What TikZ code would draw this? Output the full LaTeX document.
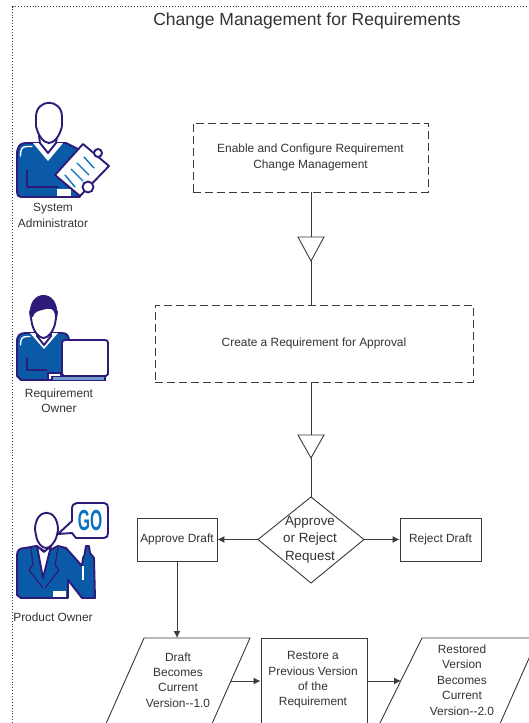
\documentclass[tikz,border=0pt]{standalone}
\usepackage{fontspec}
\setmainfont{Liberation Sans}
\usetikzlibrary{arrows.meta}
\definecolor{ind}{HTML}{2E1A78}
\definecolor{blu}{HTML}{0A5AA8}
\definecolor{gob}{HTML}{0A72BE}
\definecolor{txt}{HTML}{333333}
\definecolor{lin}{HTML}{3A3A3A}
\tikzset{
 lbl/.style={font=\fontsize{11.9}{15.4}\selectfont,text=txt,align=center,inner sep=0pt},
 dlbl/.style={font=\fontsize{13.4}{17.3}\selectfont,text=txt,align=center,inner sep=0pt},
 dashbox/.style={draw=lin,dash pattern=on 8pt off 4pt,line width=.9pt,inner sep=0pt},
 sbox/.style={draw=lin,line width=.9pt,inner sep=0pt},
 flow/.style={draw=lin,line width=1pt},
 arr/.style={flow,-{Latex[length=7pt,width=7pt]}},
 tri/.style={draw=lin,line width=.9pt,fill=white},
 ic/.style={draw=ind,line width=1.9pt,line join=round,line cap=round},
 col/.style={draw=white,line width=1.4pt,line join=round,line cap=round},
}
\begin{document}
\begin{tikzpicture}[x=1pt,y=-1pt]
\useasboundingbox (0,0) rectangle (529,723);
\fill[white] (0,0) rectangle (529,723);
\clip (0,0) rectangle (529,723);
\draw[dotted,line width=.9pt,lin] (12.5,723) -- (12.5,6.5) -- (529,6.5);
\node[font=\fontsize{17.5}{20}\selectfont,text=txt,inner sep=0pt] (title) at (307,21) {Change Management for Requirements};
% boxes
\node[dashbox,minimum width=235pt,minimum height=69pt,lbl] (enable) at (310.5,157.5) {Enable and Configure Requirement\\Change Management};
\node[dashbox,minimum width=318pt,minimum height=77pt,lbl] (create) at (314,343.5) {Create a Requirement for Approval};
\coordinate (t1l) at (298,237);\coordinate (t1r) at (324,237);\coordinate (t1b) at (311,261);
\coordinate (t2l) at (298,435);\coordinate (t2r) at (324,435);\coordinate (t2b) at (311,458);
\node[sbox,minimum width=80pt,minimum height=43pt,lbl] (approve) at (177,539.5) {Approve Draft};
\node[sbox,minimum width=81pt,minimum height=43pt,lbl] (reject) at (440.5,539.5) {Reject Draft};
\coordinate (dt) at (311,497);\coordinate (dr) at (364,539.5);\coordinate (db) at (311,583);\coordinate (dl) at (258,539.5);
\draw[sbox] (dt)--(dr)--(db)--(dl)--cycle;
\node[dlbl] (req) at (310,539.5) {Approve\\or Reject\\Request};
% connectors
\draw[flow] (enable.south -| t1b) -- (t1b |- t1l);
\draw[tri] (t1l)--(t1r)--(t1b)--cycle;
\draw[flow] (t1b) -- (t1b |- create.north);
\draw[flow] (create.south -| t2b) -- (t2b |- t2l);
\draw[tri] (t2l)--(t2r)--(t2b)--cycle;
\draw[flow] (t2b) -- (dt);
\draw[arr] (dl) -- (approve.east);
\draw[arr] (dr) -- (reject.west);
% bottom row
\draw[sbox] (144,638)--(250,638)--(207,735)--(101,735)--cycle;
\coordinate (p1top) at (177,638);\coordinate (p1r) at (231,681);
\node[lbl] (draft) at (178,680) {Draft\\Becomes\\Current\\Version-{}-1.0};
\node[sbox,minimum width=106pt,minimum height=110pt] (restore) at (314,693) {};
\node[lbl] (restoret) at (313,680) {Restore a\\Previous Version\\of the\\Requirement};
\draw[sbox] (422,638)--(538,638)--(495,735)--(374,735)--cycle;
\node[lbl] (restored) at (462,680) {Restored\\Version\\Becomes\\Current\\Version-{}-2.0};
\coordinate (p3l) at (401,681);
\draw[arr] (approve.south) -- (p1top);
\draw[arr] (p1r) -- (restore.west |- p1r);
\draw[arr] (restore.east |- p1r) -- (p3l);
% System Administrator
\draw[ic,fill=blu] (17,155) .. controls (17,146) and (20,143) .. (26,143) -- (66,143) -- (80,150) -- (80,197) -- (21,197) .. controls (18,197) and (17,195) .. (17,192) -- cycle;
\draw[col] (20.5,156) .. controls (20.5,149) and (22,146.5) .. (27,146.5) -- (32,146.5);
\fill[white] (33,143) -- (63,143) -- (48,161) -- cycle;
\draw[ic,fill=white] (39,136) -- (40,143) -- (48,153) -- (56,143) -- (57,136) -- cycle;
\draw[ic,fill=white] (36,117) .. controls (36,98) and (62,98) .. (62,117) -- (62,126) .. controls (60,136) and (54,143) .. (49,143) .. controls (44,143) and (38,136) .. (36,126) -- cycle;
\draw[ic] (27,170) -- (27,187) -- (58,187);
\fill[white] (57,189) rectangle (71,196);
\draw[ic,fill=white] (55,175) -- (83,144) -- (109,166) -- (80,196) -- cycle;
\draw[ic,fill=white] (98,153) circle (4);
\draw[ic,fill=white] (88,187) circle (5.5);
\draw[draw=gob,line width=1.4pt,line cap=round] (65,175) -- (75,187) (71,169) -- (83,181) (77,163) -- (89,175) (84,157) -- (94,168);
\node[lbl] (sysadm) at (53,215.5) {System\\Administrator};
% Requirement Owner
\draw[ic,fill=blu] (17,342) .. controls (17,335) and (20,333) .. (26,333) -- (62,333) .. controls (67,333) and (69,336) .. (69,341) -- (69,380) -- (21,380) -- (17,376) -- cycle;
\draw[col] (20.5,345) .. controls (20.5,339) and (22,336.5) .. (27,336.5) -- (30,336.5);
\fill[white] (30,333) -- (58,333) -- (44,349) -- cycle;
\draw[ic,fill=white] (37,331) -- (37,336) -- (44,345) -- (51,336) -- (51,331) -- cycle;
\draw[ic,fill=white] (30,312) .. controls (30,306) and (57,306) .. (57,312) -- (55,324) .. controls (53,332) and (48,338) .. (43.5,338) .. controls (39,338) and (34,332) .. (32,324) -- cycle;
\fill[ind] (30,316) .. controls (27,288) and (60,288) .. (57,316) -- (55,317) .. controls (55,309) and (50,306) .. (46,309) .. controls (40,311) and (35,310) .. (33,317) -- cycle;
\draw[ic] (27,358) -- (27,370) -- (47,370);
\draw[draw=ind,line width=1.4pt,fill=white] (48,373) -- (61,373) -- (61,380) -- (48,380) -- cycle;
\draw[ic,fill=white] (62,343) .. controls (62,341) and (63,340) .. (65,340) -- (105,340) .. controls (107,340) and (108,341) .. (108,343) -- (108,374) -- (106,376) -- (64,376) -- (62,374) -- cycle;
\draw[draw=ind,line width=1.4pt,fill=blu!60] (52,376.5) -- (105,376.5) -- (105,380.5) -- (52,380.5) -- cycle;
\node[lbl] (reqown) at (59,400.5) {Requirement\\Owner};
% Product Owner
\draw[ic,fill=blu] (17,555) .. controls (17,550) and (20,548) .. (25,548) -- (36,546) -- (46,552) -- (58,546) -- (66,548) -- (82,566) -- (83,558) .. controls (84,556) and (85,555) .. (85,552) -- (86,546) -- (89,546) -- (90,553) -- (94,558) -- (95,598) -- (82,598) -- (68,580) -- (68,598) -- (21,598) -- (17,595) -- cycle;
\draw[ic,fill=white] (37,546) -- (43,578) -- (51,546) -- (44,552) -- cycle;
\draw[ic,fill=white] (35,530) .. controls (35,507) and (58,507) .. (58,530) -- (57,535) .. controls (55,543) and (50,548) .. (46,548) .. controls (42,548) and (37,543) .. (36,535) -- cycle;
\draw[draw=ind,line width=1.2pt] (31,548) -- (33,565) -- (29,570) -- (43,588);
\draw[draw=ind,line width=1.2pt] (58,548) -- (55,565) -- (59,570) -- (45,588);
\fill[white] (53,591) rectangle (66,597);
\draw[draw=white,line width=1.2pt] (83,566) -- (83,580);
\draw[ic,fill=white] (58,534) -- (72,521) -- (72,509) .. controls (72,505) and (74,503) .. (77,503) -- (104,503) .. controls (107,503) and (108,505) .. (108,508) -- (108,533) .. controls (108,536) and (107,538) .. (104,538) -- (76,538) -- (72,533) -- cycle;
\node[font=\fontsize{29}{29}\bfseries\selectfont,text=gob,inner sep=0pt,xscale=.54] (go) at (90,521) {GO};
\node[lbl] (prodown) at (53,617) {Product Owner};
\end{tikzpicture}
\end{document}
